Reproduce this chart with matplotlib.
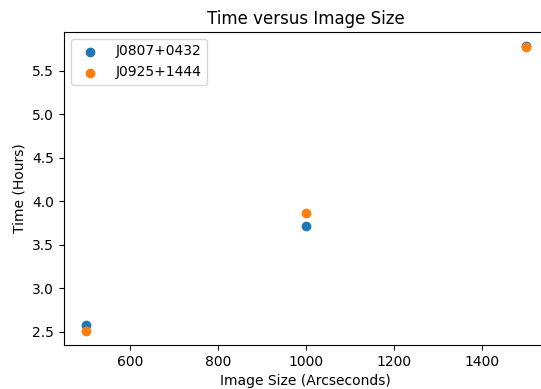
import numpy as np
import matplotlib
matplotlib.use("Agg")
import matplotlib.pyplot as plt

image_size = [500, 1000, 1500]
time_j0807 = [2.58, 3.71, 5.78]
time_j0925 = [2.51, 3.86, 5.77]

fig = plt.figure(figsize=(5.41, 3.89), dpi=100)
ax = fig.add_axes([64/541, 1 - 345/389, (547.5-64)/541, (345-32)/389])
ax.scatter(image_size, time_j0807, label="J0807+0432")
ax.scatter(image_size, time_j0925, label="J0925+1444")
ax.set_title("Time versus Image Size")
ax.set_xlabel("Image Size (Arcseconds)")
ax.set_ylabel("Time (Hours)")
ax.legend()
fig.savefig("out.png", dpi=100)
